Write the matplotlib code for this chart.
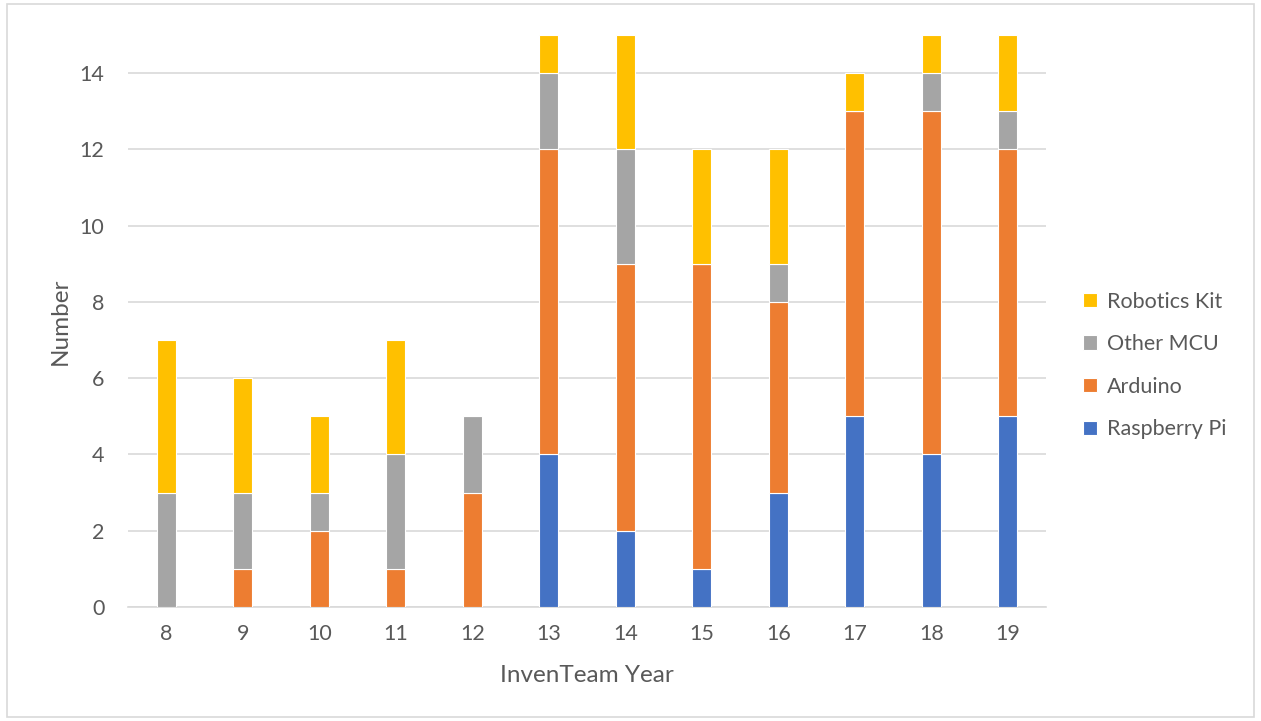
import matplotlib
matplotlib.use("Agg")
import matplotlib.pyplot as plt
from matplotlib.patches import Rectangle
import numpy as np

years = ["8", "9", "10", "11", "12", "13", "14", "15", "16", "17", "18", "19"]
raspberry_pi = [0, 0, 0, 0, 0, 4, 2, 1, 3, 5, 4, 5]
arduino = [0, 1, 2, 1, 3, 8, 7, 8, 5, 8, 9, 7]
other_mcu = [3, 2, 1, 3, 2, 2, 3, 0, 1, 0, 1, 1]
robotics_kit = [4, 3, 2, 3, 0, 1, 3, 3, 3, 1, 1, 2]

series = [
    ("Raspberry Pi", raspberry_pi, "#4472C4"),
    ("Arduino", arduino, "#ED7D31"),
    ("Other MCU", other_mcu, "#A5A5A5"),
    ("Robotics Kit", robotics_kit, "#FFC000"),
]

plt.rcParams['font.family'] = ['Lato', 'DejaVu Sans']
txt = "#595959"

W, H = 1261, 721
fig = plt.figure(figsize=(W / 100, H / 100), dpi=100)
fig.patches.append(Rectangle((7 / W, 4 / H), (1254 - 7) / W, (717 - 4) / H,
                             transform=fig.transFigure, fill=False,
                             edgecolor="#D9D9D9", linewidth=1.2))

ax = fig.add_axes([128 / W, 1 - 607 / H, (1046 - 128) / W, (607 - 35) / H])
x = np.arange(len(years))
bottom = np.zeros(len(years))
handles = []
for name, vals, col in series:
    v = np.array(vals, dtype=float)
    b = ax.bar(x, v, 0.25, bottom=bottom, color=col, edgecolor="white",
               linewidth=0.8, label=name, zorder=3)
    handles.append(b)
    bottom += v

ax.set_xlim(-0.5, len(years) - 0.5)
ax.set_ylim(0, 15)
ax.set_yticks(range(0, 15, 2))
ax.set_xticks(x)
ax.set_xticklabels(years)
ax.grid(axis="y", color="#D9D9D9", linewidth=1.2, zorder=0)
for s in ["top", "right", "left"]:
    ax.spines[s].set_visible(False)
ax.spines["bottom"].set_color("#D9D9D9")
ax.spines["bottom"].set_linewidth(1.2)
ax.tick_params(axis="both", length=0, colors=txt, labelsize=15.5)
ax.tick_params(axis="y", pad=17)
ax.tick_params(axis="x", pad=12)
ax.set_xlabel("InvenTeam Year", fontsize=17.5, color=txt, labelpad=15)
ax.set_ylabel("Number", fontsize=17.5, color=txt, labelpad=6)

leg = fig.legend(handles[::-1], [s[0] for s in series][::-1],
                 loc="center left", bbox_to_anchor=(1064 / W, 1 - 365.5 / H),
                 bbox_transform=fig.transFigure, frameon=False,
                 fontsize=15.5, labelcolor=txt, handlelength=0.65, handleheight=0.65,
                 handletextpad=0.45, labelspacing=1.05)

fig.savefig("out.png", dpi=100)
